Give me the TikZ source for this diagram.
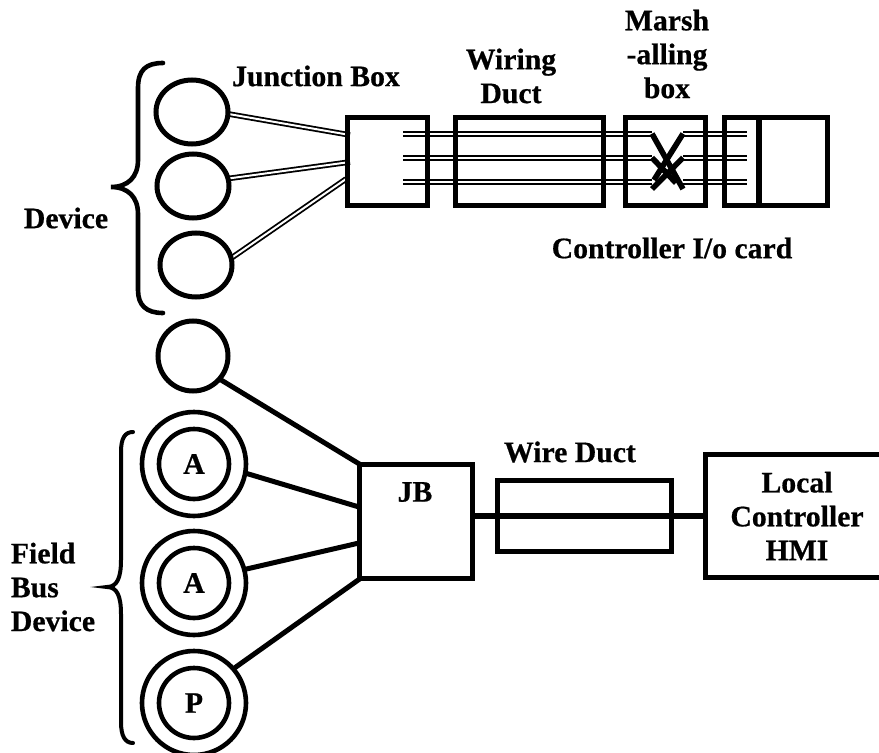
\documentclass[tikz,border=0pt]{standalone}
\usepackage{fontspec}
\setmainfont[BoldFeatures={FakeBold=0.6}]{Liberation Serif}
\usetikzlibrary{shapes.geometric,backgrounds}
\tikzset{
  boxthick/.style={draw=black,rectangle,line width=5.6*.75pt,inner sep=0pt,outer sep=0pt,minimum width=#1},
  ovalsmall/.style={draw=black,ellipse,line width=5*.75pt,inner sep=0pt,outer sep=0pt},
  outerring/.style={draw=black,circle,line width=4.6*.75pt,inner sep=0pt,outer sep=0pt,minimum size=104*.75pt},
  innerring/.style={draw=black,circle,line width=4.6*.75pt,inner sep=0pt,outer sep=0pt,minimum size=70*.75pt,font=\lab},
  wirepair/.style={draw=black,line width=1.8*.75pt,double=white,double distance=2*.75pt},
  feed/.style={draw=black,line width=5*.75pt},
  crossbar/.style={draw=black,line width=5.6*.75pt},
  bracket/.style={draw=black,line width=4.6*.75pt,line cap=round},
  caption/.style={font=\lab,align=center,inner sep=0pt,outer sep=0pt}
}
\newcommand{\lab}{\fontsize{22.3pt}{25.4pt}\selectfont\bfseries}
\begin{document}
\begin{tikzpicture}[x=.75pt,y=-.75pt]
\path[use as bounding box] (0,0) rectangle (879,753);
\clip (0,0) rectangle (879,753);
% devices
\node[ovalsmall,minimum width=72*.75pt,minimum height=64*.75pt] (e1) at (192,112) {};
\node[ovalsmall,minimum width=72*.75pt,minimum height=64*.75pt] (e2) at (193,186) {};
\node[ovalsmall,minimum width=72*.75pt,minimum height=64*.75pt] (e3) at (196,265) {};
% upper boxes
\node[boxthick=80*.75pt,minimum height=88*.75pt] (jbox) at (387.5,161.5) {};
\node[boxthick=148*.75pt,minimum height=88*.75pt] (duct) at (529.5,161.5) {};
\node[boxthick=80*.75pt,minimum height=88*.75pt] (marsh) at (665.5,161.5) {};
\node[boxthick=103*.75pt,minimum height=88*.75pt] (card) at (776,161.5) {};
\draw[line width=5.6*.75pt] (759,115) -- (759,208);
% free ends of the wires
\coordinate (j1) at (350,135);
\coordinate (j2) at (350,162);
\coordinate (j3) at (346,179);
\foreach \n/\y in {1/133.7,2/157.7,3/181.7}{
  \coordinate (wa\n) at (403,\y);
  \coordinate (wb\n) at (652,\y);
  \coordinate (wc\n) at (683,\y);
  \coordinate (wd\n) at (747,\y);
}
\begin{scope}[on background layer]
  \draw[wirepair] (e1.-3) -- (j1);
  \draw[wirepair] (e2.12) -- (j2);
  \draw[wirepair] (e3.11) -- (j3);
  \foreach \n in {1,2,3}{
    \draw[wirepair] (wa\n) -- (wb\n);
    \draw[wirepair] (wc\n) -- (wd\n);
  }
\end{scope}
% crossing inside the marshalling box
\draw[crossbar] (wb1) -- (wc3 |- 0,189);
\draw[crossbar] (wc1) -- (654,180);
\draw[crossbar] (wc2) -- (wb3 |- 0,189);
\draw[crossbar] (wb2) -- (676,183);
% braces
\draw[bracket] (163,63) .. controls (146,63) and (138,70) .. (138,88) -- (138,160)
  .. controls (138,177) and (128,187) .. (111,187)
  .. controls (128,187) and (138,197) .. (138,214) -- (138,290)
  .. controls (138,305) and (146,313) .. (163,313);
\draw[bracket,line width=4*.75pt] (133,432) .. controls (125,432) and (121,438) .. (121,452) -- (121,560)
  .. controls (121,578) and (117,587) .. (107,587)
  .. controls (117,587) and (121,596) .. (121,614) -- (121,722)
  .. controls (121,736) and (125,743) .. (133,743);
% field bus devices
\node[ovalsmall,minimum width=70*.75pt,minimum height=70*.75pt] (b0) at (193,356) {};
\node[outerring] (a1o) at (194,464) {};
\node[innerring] (a1) at (194,464) {A};
\node[outerring] (a2o) at (194,583) {};
\node[innerring] (a2) at (194,583) {A};
\node[outerring] (p1o) at (194,703) {};
\node[innerring] (p1) at (194,703) {P};
% lower boxes
\node[boxthick=113*.75pt,minimum height=114*.75pt] (jb) at (416,521.5) {};
\node[boxthick=174*.75pt,minimum height=71*.75pt] (wire) at (584.5,516) {};
\node[boxthick=200*.75pt,minimum height=123*.75pt] (local) at (805.5,516) {};
\coordinate (k0) at (361,465);
\coordinate (k1) at (359,507);
\coordinate (k2) at (359,543);
\coordinate (k3) at (361,578);
\begin{scope}[on background layer]
  \draw[feed] (b0.-41) -- (k0);
  \draw[feed] (a1o.-10) -- (k1);
  \draw[feed] (a2o.15) -- (k2);
  \draw[feed] (p1o.41) -- (k3);
  \draw[line width=5.6*.75pt] (jb.east |- wire.center) -- (local.west);
\end{scope}
% labels
\node[caption] (t1) at (316,76) {Junction Box};
\node[caption] (t2) at (511,76) {Wiring\\Duct};
\node[caption] (t3) at (667,54) {Marsh\\-alling\\box};
\node[caption] (t4) at (66,218) {Device};
\node[caption] (t5) at (672,248) {Controller I/o card};
\node[caption,align=left] (t6) at (53,587) {Field\\Bus\\Device};
\node[caption] (t7) at (570,452) {Wire Duct};
\node[caption] (t8) at (415,492) {JB};
\node[caption] (t9) at (797,516) {Local\\Controller\\HMI};
\end{tikzpicture}
\end{document}
